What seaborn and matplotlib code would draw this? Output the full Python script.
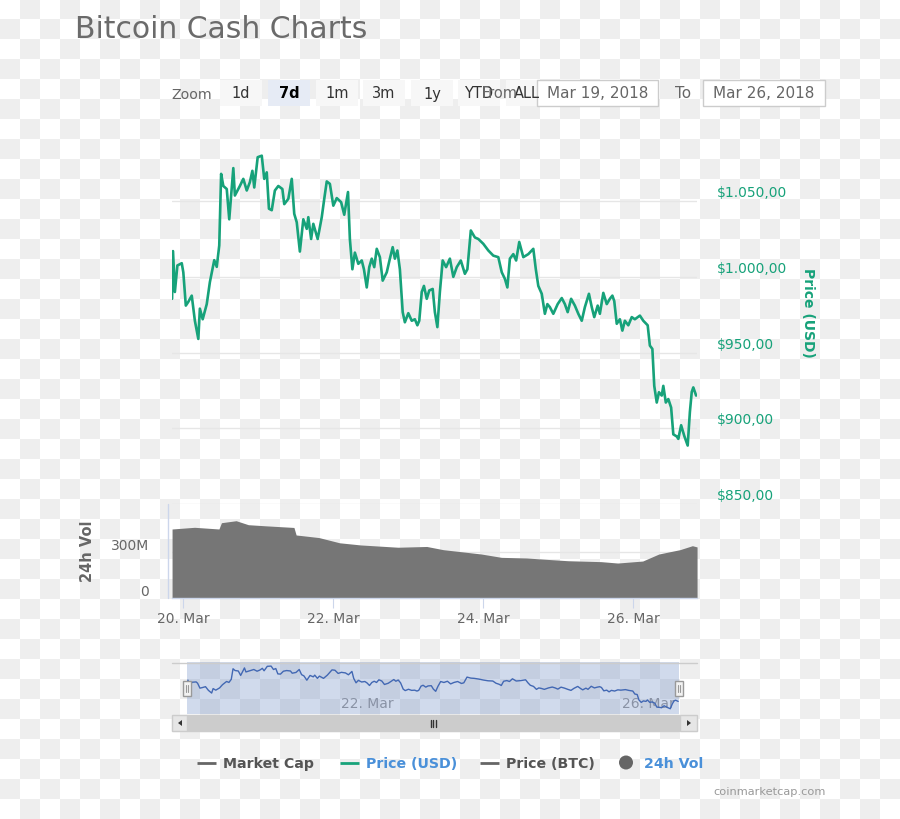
import numpy as np
import pandas as pd
import matplotlib
matplotlib.use("Agg")
import matplotlib.pyplot as plt
import matplotlib.dates as mdates
from matplotlib.patches import Rectangle, Circle, Polygon
import seaborn as sns

# ---------------- data ----------------
BASE_DATE = "2018-03-20"
# hours after 20 Mar 00:00
price_hours = [-3.5, -3.2, -2.6, -1.8, -0.4, 0.1, 0.9, 1.7, 2.8, 3.8, 4.9, 5.4, 6.3, 7.6, 8.6,
               10.0, 10.8, 11.6, 12.2, 12.9, 14.0, 14.8, 16.1, 16.6, 18.2, 19.3, 20.4, 21.4,
               22.2, 22.8, 23.9, 25.2, 26.0, 26.8, 27.5, 28.4, 29.4, 30.5, 31.8, 32.4, 33.7,
               34.8, 35.6, 36.4, 37.4, 38.5, 39.6, 40.1, 41.0, 41.7, 43.1, 44.4, 45.2, 46.0,
               47.0, 48.1, 49.2, 50.6, 51.6, 52.8, 53.4, 54.2, 55.0, 56.1, 57.2, 57.9, 58.8,
               59.6, 60.4, 61.2, 62.0, 63.0, 63.9, 65.2, 66.2, 67.1, 67.8, 68.6, 69.4, 70.3,
               71.0, 72.1, 73.2, 74.2, 75.0, 75.6, 76.4, 77.1, 78.0, 78.8, 79.9, 80.6, 81.4,
               82.2, 83.1, 84.2, 85.4, 86.5, 87.6, 88.9, 90.2, 91.0, 92.1, 93.4, 94.5, 96.1,
               97.7, 99.3, 100.9, 102.0, 103.0, 103.8, 104.6, 105.7, 106.6, 107.6, 108.9,
               110.5, 112.1, 112.9, 113.7, 114.8, 115.8, 116.6, 117.4, 118.5, 119.9, 121.2,
               122.2, 123.1, 124.2, 125.4, 126.5, 127.6, 128.6, 129.9, 130.8, 131.6, 132.7,
               133.4, 134.5, 135.6, 136.6, 137.4, 138.0, 138.8, 139.8, 140.6, 141.4, 142.5,
               143.6, 144.6, 146.2, 147.3, 148.7, 149.4, 150.2, 150.8, 151.6, 152.3, 153.2,
               153.7, 154.5, 155.3, 156.2, 156.9, 158.0, 158.5, 159.4, 160.4, 161.5, 162.2,
               162.8, 163.3, 164.2]
price_usd = [985.5, 1017, 990, 1007.5, 1009, 1003, 981, 983.5, 987.6, 971, 959, 979, 972, 982, 996.5,
             1011, 1006.6, 1020.7, 1068, 1060, 1058, 1038, 1071.8, 1053.7, 1060, 1064.7, 1057, 1062.5,
             1070, 1059, 1079, 1080, 1064.7, 1069, 1045, 1044, 1057, 1060, 1058, 1048, 1051.5,
             1064.7, 1041.6, 1036, 1016.7, 1038, 1031.7, 1039.4, 1025, 1035, 1025, 1039.4, 1051.5, 1063,
             1061.4, 1047, 1052, 1049.3, 1041, 1056, 1025, 1005, 1016, 1008.6, 1010.8, 1005, 993,
             1006.4, 1012, 1006.4, 1018.5, 1013, 997.5, 1003, 1012, 1019.6, 1012, 1017.4, 1005, 976.7,
             970, 976, 971, 972, 968, 971, 990, 994, 985.5, 991, 992, 976.7, 966.8,
             990, 1010.8, 1006.4, 1012, 1000, 1006.4, 1010.8, 1002, 1005, 1030.6, 1026, 1025, 1021.8,
             1017.4, 1014, 1013, 1003, 998.7, 993, 1012, 1015, 1010.8, 1023, 1013,
             1015, 1018.5, 1005, 994, 988.8, 975.6, 982, 980, 975.6, 982, 986,
             982, 976.7, 985.5, 981, 975.6, 971, 980, 988.8, 980, 973.4, 981,
             975.6, 989.4, 982, 985.5, 987.6, 984, 969, 972, 964.5, 971, 968,
             973.4, 972, 974.4, 971, 968, 954.6, 952.4, 928, 917, 923.8, 921.6,
             928, 917, 919.3, 913.7, 896, 894.6, 893, 902, 895, 888.6, 910.7,
             924, 927, 921.6]

vol_hours = [-3.5, 3.7, 11.5, 12.3, 17.0, 20.9, 26.2, 35.5, 36.2, 43.5, 50.1, 56.8, 68.8, 78.0,
             83.3, 95.4, 101.9, 109.9, 117.8, 123.2, 133.8, 139.1, 147.1, 152.3, 159.0, 163.0, 164.5]
vol_millions = [452, 463, 452, 493, 506, 480, 473, 462, 413, 396, 362, 348, 333, 338,
                317, 289, 267, 263, 252, 245, 239, 230, 243, 289, 317, 343, 335]

price_ticks = [850, 900, 950, 1000, 1050]
price_tick_labels = ["$850,00", "$900,00", "$950,00", "$1.000,00", "$1.050,00"]
vol_ticks = [0, 300e6]
vol_tick_labels = ["0", "300M"]
date_ticks = ["2018-03-20", "2018-03-22", "2018-03-24", "2018-03-26"]
nav_ticks = ["2018-03-22", "2018-03-26"]
zoom_buttons = ["1d", "7d", "1m", "3m", "1y", "YTD", "ALL"]
legend_items = ["Market Cap", "Price (USD)", "Price (BTC)", "24h Vol"]

# ---------------- style ----------------
sns.set_theme(style="white")
plt.rcParams["font.family"] = ["DejaVu Sans"]
GREEN = "#17a27a"
GREY_TXT = "#666666"
AXIS_BLUE = "#ccd6eb"
BLUE_TXT = "#4a90d9"

W, H = 900, 820
fig = plt.figure(figsize=(9, 8.2), dpi=100)


def frac(l, t, r, b):
    return [l / W, 1 - b / H, (r - l) / W, (b - t) / H]


base = pd.Timestamp(BASE_DATE)
t_price = base + pd.to_timedelta(price_hours, unit="h")
t_vol = base + pd.to_timedelta(vol_hours, unit="h")
x0 = base - pd.Timedelta(hours=3.52)
x1 = base + pd.Timedelta(hours=164.48)
price_df = pd.DataFrame({"time": t_price, "price": price_usd})

# background checkerboard
bg = fig.add_axes([0, 0, 1, 1], zorder=-5)
ii, jj = np.meshgrid(np.arange(W // 20), np.arange(H // 20))
checker = np.where((ii + jj) % 2 == 1, 238, 255) / 255.0
bg.imshow(checker, cmap="gray", vmin=0, vmax=1, extent=[0, W, H, 0],
          interpolation="nearest", aspect="auto")
bg.set_xlim(0, W); bg.set_ylim(H, 0); bg.axis("off")

# ---------------- price pane ----------------
axp = fig.add_axes(frac(172, 126.4, 697, 505), zorder=2)
axp.patch.set_alpha(0)
sns.lineplot(data=price_df, x="time", y="price", ax=axp, color=GREEN, lw=1.9, legend=False)
axp.set_xlim(x0, x1)
axp.set_ylim(850, 1100)
axp.set_yticks(price_ticks)
axp.grid(axis="y", color="#e6e6e6", lw=1)
axp.grid(axis="x", visible=False)
axp.set_axisbelow(True)
axp.tick_params(left=False, bottom=False, labelleft=False, labelbottom=False)
axp.set_xlabel(""); axp.set_ylabel("")
for s in axp.spines.values():
    s.set_visible(False)
for v, lab in zip(price_ticks, price_tick_labels):
    axp.annotate(lab, xy=(1, v), xycoords=("axes fraction", "data"), xytext=(20, 9),
                 textcoords="offset pixels", ha="left", va="center", color=GREEN, fontsize=10,
                 annotation_clip=False)

# ---------------- volume pane ----------------
axv = fig.add_axes(frac(172, 505, 697, 599.3), zorder=1)
axv.patch.set_alpha(0)
axv.fill_between(t_vol, np.array(vol_millions) * 1e6, 0, color="#767676", lw=0, zorder=2)
axv.set_xlim(x0, x1)
axv.set_ylim(0, 615e6)
axv.set_yticks(vol_ticks)
axv.grid(axis="y", color="#e6e6e6", lw=1, zorder=0)
axv.grid(axis="x", visible=False)
axv.set_axisbelow(True)
axv.set_xticks(pd.to_datetime(date_ticks))
axv.xaxis.set_major_formatter(mdates.DateFormatter("%d. %b"))
axv.tick_params(axis="x", bottom=True, length=7, width=0.8, color=AXIS_BLUE, pad=2.5,
                labelsize=10, labelcolor=GREY_TXT)
axv.tick_params(axis="y", left=False, labelleft=False)
for k, s in axv.spines.items():
    s.set_visible(k == "bottom")
axv.spines["bottom"].set_color(AXIS_BLUE)
axv.spines["bottom"].set_linewidth(1)
for v, lab in zip(vol_ticks, vol_tick_labels):
    axv.annotate(lab, xy=(0, v), xycoords=("axes fraction", "data"), xytext=(-23, 7),
                 textcoords="offset pixels", ha="right", va="center", color=GREY_TXT,
                 fontsize=10, annotation_clip=False)

# ---------------- navigator ----------------
axn = fig.add_axes(frac(187, 663.3, 679, 715), zorder=3)
axn.patch.set_alpha(0)
sns.lineplot(data=price_df, x="time", y="price", ax=axn, color="#335cad", lw=1, legend=False)
axn.set_xlim(x0, x1)
axn.set_ylim(865, 1097)
axn.axvspan(x0, x1, color=(102 / 255, 133 / 255, 194 / 255), alpha=0.3, lw=0, zorder=4)
for d in nav_ticks:
    axn.annotate(d and pd.Timestamp(d).strftime("%d. %b"), xy=(pd.Timestamp(d), 0.21),
                 xycoords=("data", "axes fraction"), xytext=(3, 0), textcoords="offset pixels",
                 ha="left", va="center", color="#999999", fontsize=10, zorder=1)
axn.axis("off")

# ---------------- overlay decorations ----------------
ov = fig.add_axes([0, 0, 1, 1], zorder=10)
ov.set_xlim(0, W); ov.set_ylim(H, 0); ov.axis("off"); ov.patch.set_alpha(0)

ov.text(75, 29, "Bitcoin Cash Charts", fontsize=21.5, color="#6b6b6b", ha="left", va="center")

# range selector
ov.text(171, 95, "Zoom", fontsize=10.2, color=GREY_TXT, ha="left", va="center")
btn_cx = [241, 289, 337, 384, 432, 479, 527]
for lab, cx in zip(zoom_buttons, btn_cx):
    sel = lab == "7d"
    ov.add_patch(Rectangle((cx - 21, 81), 42, 26, fc="#e6ebf5" if sel else "#f7f7f7",
                           ec="none", zorder=1))
    ov.text(cx, 94, lab, fontsize=10.5, color="#000000" if sel else "#333333",
            fontweight="bold" if sel else "normal", ha="center", va="center", zorder=3)
ov.text(482, 94, "From", fontsize=10.5, color=GREY_TXT, ha="left", va="center", zorder=3)
ov.add_patch(Rectangle((537, 81), 121, 26, fc="white", ec="#cccccc", lw=1, zorder=2))
ov.text(597.5, 94, "Mar 19, 2018", fontsize=11, color=GREY_TXT, ha="center", va="center", zorder=3)
ov.text(683.5, 94, "To", fontsize=11, color=GREY_TXT, ha="center", va="center", zorder=3)
ov.add_patch(Rectangle((703, 81), 122, 26, fc="white", ec="#cccccc", lw=1, zorder=2))
ov.text(764, 94, "Mar 26, 2018", fontsize=11, color=GREY_TXT, ha="center", va="center", zorder=3)

# axis titles
ov.text(808, 313, "Price (USD)", rotation=-90, fontsize=10, fontweight="bold", color=GREEN,
        ha="center", va="center")
ov.text(88, 551, "24h Vol", rotation=90, fontsize=10.5, fontweight="bold", color=GREY_TXT,
        ha="center", va="center")
ov.plot([167.5, 167.5], [505, 599], color=AXIS_BLUE, lw=1)

# navigator chrome
ov.plot([172, 697], [663.5, 663.5], color="#cccccc", lw=1)
for hx in (187, 679):
    ov.add_patch(Rectangle((hx - 4, 681.5), 8, 15, fc="#f2f2f2", ec="#999999", lw=1, zorder=3))
    for dx in (-1.3, 1.3):
        ov.plot([hx + dx, hx + dx], [685.5, 692.5], color="#999999", lw=0.8, zorder=4)
ov.add_patch(Rectangle((172, 716), 525, 16, fc="#f2f2f2", ec="#f2f2f2", lw=1))
ov.add_patch(Rectangle((187, 716), 492, 16, fc="#cccccc", ec="#cccccc", lw=1))
ov.add_patch(Rectangle((172, 716), 15, 16, fc="#e6e6e6", ec="#cccccc", lw=1))
ov.add_patch(Rectangle((680, 716), 17, 16, fc="#e6e6e6", ec="#cccccc", lw=1))
ov.add_patch(Polygon([(178, 724), (182, 721), (182, 727)], closed=True, fc="#333333", ec="none"))
ov.add_patch(Polygon([(691, 724), (687, 721), (687, 727)], closed=True, fc="#333333", ec="none"))
for gx in (430.5, 433, 435.5):
    ov.plot([gx, gx], [720.5, 727.5], color="#333333", lw=1)

# legend
LEG_Y = 764
leg_line_x = [197, 340, 480]
leg_line_col = ["#666666", GREEN, "#666666"]
leg_text_x = [223, 366, 506, 644]
leg_text_col = ["#555555", BLUE_TXT, "#555555", BLUE_TXT]
for lx, lc in zip(leg_line_x, leg_line_col):
    ov.plot([lx, lx + 19], [LEG_Y, LEG_Y], color=lc, lw=2, solid_capstyle="butt")
ov.add_patch(Circle((626, LEG_Y - 0.5), 7, fc="#666666", ec="none"))
for tx, tc, lab in zip(leg_text_x, leg_text_col, legend_items):
    ov.text(tx, LEG_Y, lab, fontsize=10.2, fontweight="bold", color=tc, ha="left", va="center")

ov.text(826, 792, "coinmarketcap.com", fontsize=8.2, color="#999999", ha="right", va="center")

fig.savefig("out.png", dpi=100)
